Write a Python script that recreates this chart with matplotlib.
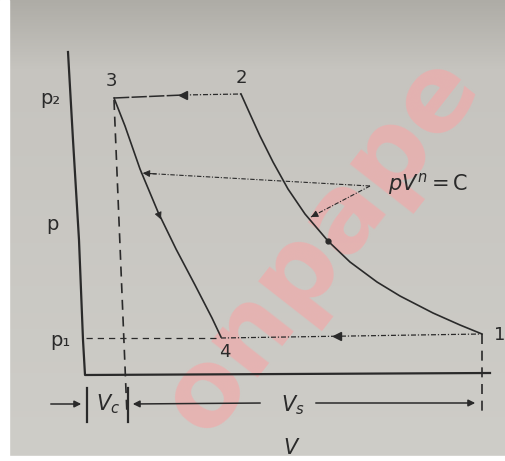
import matplotlib
matplotlib.use("Agg")
import matplotlib.pyplot as plt
import numpy as np

plt.rcParams['mathtext.fontset'] = 'dejavusans'

INK = '#2a2a2a'

# state points 1, 2, 3, 4 (V, p in drawing units)
V_state = [397, 156, 29, 136]
p_state = [41, 281, 277, 37]
state_labels = ['1', '2', '3', '4']
label_V = [415, 156, 26, 140]
label_p = [40, 297, 294, 23]

# compression 1 -> 2, pV^n = C
V_12 = [397, 375, 348, 315, 292, 265, 243, 220, 203, 188, 175, 165, 156]
p_12 = [41, 50, 62, 79, 93, 113, 134, 161, 186, 213, 239, 261, 281]

# re-expansion 3 -> 4
V_34 = [29, 40, 55, 73, 91, 110, 127, 136]
p_34 = [277, 249, 206, 163, 126, 90, 57, 38]

# p axis (the printed axis leans a little)
axis_V = [-17, -12, -6, -2, 0, 405]
axis_p = [323, 235, 135, 35, 0, 2]

# clearance / swept volume markers
Vc_edge = [29, 42]
Vc_p = [275, -40]
dim_p = -29
tick_V = [2, 43]

# leader for the pV^n = C note
lead_tail = (285, 189)
lead_tips = [(55, 202), (226, 158)]

fig = plt.figure(figsize=(5.05, 4.61), dpi=100)
ax = fig.add_axes([0, 0, 1, 1])
ax.set_xlim(-85, 420)
ax.set_ylim(-86, 375)
ax.axis('off')

# paper background, darker near the top edge
rows = np.linspace(0, 1, 200)
top = np.array([174, 172, 166]) / 255
mid = np.array([198, 196, 191]) / 255
low = np.array([206, 205, 200]) / 255
grad = np.where(rows[:, None] < 0.15,
                top + (mid - top) * (rows[:, None] / 0.15),
                mid + (low - mid) * ((rows[:, None] - 0.15) / 0.85))
ax.imshow(grad[:, None, :], extent=[-85, 420, -86, 375], aspect='auto', zorder=0)
ax.axvspan(-85, -76, color='white', zorder=1)
ax.axhspan(-86, -81, color='white', zorder=1)

ax.text(236, 131, 'onpape', fontsize=77, fontweight='bold', color='#f0aaaa',
        alpha=0.7, rotation=52, ha='center', va='center',
        rotation_mode='anchor', zorder=2)

# axes
ax.plot(axis_V, axis_p, color=INK, lw=1.6, zorder=5)

# process curves
ax.plot(V_12, p_12, color=INK, lw=1.2, zorder=5)
ax.plot(V_34, p_34, color=INK, lw=1.2, zorder=5)

# delivery line 2 -> 3 and suction line 4 -> 1
ax.plot([V_state[2], 98], [p_state[2], 280], color=INK, lw=1.1,
        dashes=(10, 1.5), zorder=5)
ax.plot([98, V_state[1]], [280, p_state[1]], color=INK, lw=0.9,
        dashes=(4, 1.5, 1, 1.5), zorder=5)
ax.plot([1, V_state[3]], [p_state[3], p_state[3]], color=INK, lw=0.9,
        dashes=(5, 4), zorder=5)
ax.plot([V_state[3], V_state[0]], [p_state[3], p_state[0]], color=INK, lw=0.9,
        dashes=(4, 1.5, 1, 1.5), zorder=5)

# flow direction arrowheads
ax.plot([98, 252], [280, 39], marker='<', ms=6, color=INK, ls='none', zorder=6)
ax.annotate('', xy=(77, 153), xytext=(72, 165),
            arrowprops=dict(arrowstyle='-|>', color=INK, lw=0.6, mutation_scale=11),
            zorder=6)
ax.plot([243], [134], marker='o', ms=3.5, color=INK, zorder=6)

# vertical dashed lines at V3 and V1
ax.plot(Vc_edge, Vc_p, color=INK, lw=1.2, dashes=(6, 4), zorder=5)
ax.plot([V_state[0], V_state[0]], [p_state[0], -38], color=INK, lw=1.2,
        dashes=(6, 4), zorder=5)

# leaders to both polytropic curves
for tip in lead_tips:
    ax.plot([lead_tail[0], tip[0]], [lead_tail[1], tip[1]], color=INK, lw=0.8,
            dashes=(4, 1.5, 1, 1.5), zorder=5)
    ax.annotate('', xy=tip, xytext=(tip[0] + (lead_tail[0] - tip[0]) * 0.08,
                                    tip[1] + (lead_tail[1] - tip[1]) * 0.08),
                arrowprops=dict(arrowstyle='-|>', color=INK, lw=0.8,
                                mutation_scale=10), zorder=6)

# dimension row
for v in tick_V:
    ax.plot([v, v], [-13, -47], color=INK, lw=1.6, zorder=5)
arrow = dict(arrowstyle='-|>', color=INK, lw=1.1, mutation_scale=10)
ax.annotate('', xy=(-1, dim_p), xytext=(-37, dim_p), arrowprops=arrow, zorder=6)
ax.annotate('', xy=(45, dim_p), xytext=(178, dim_p + 1), arrowprops=arrow, zorder=6)
ax.annotate('', xy=(393, dim_p + 1), xytext=(228, dim_p + 1), arrowprops=arrow, zorder=6)

# labels
for s, v, p in zip(state_labels, label_V, label_p):
    ax.text(v, p, s, fontsize=13, color=INK, ha='center', va='center', zorder=7)
ax.text(-35, 277, 'p₂', fontsize=14, color=INK, ha='center', va='center', zorder=7)
ax.text(-33, 150, 'p', fontsize=14, color=INK, ha='center', va='center', zorder=7)
ax.text(-25, 35, 'p₁', fontsize=14, color=INK, ha='center', va='center', zorder=7)
ax.text(23, dim_p, '$V_c$', fontsize=15, color=INK, ha='center', va='center', zorder=7)
ax.text(208, dim_p - 1, '$V_s$', fontsize=15, color=INK, ha='center', va='center', zorder=7)
ax.text(207, -73, '$V$', fontsize=15, color=INK, ha='center', va='center', zorder=7)
ax.text(343, 191, '$pV^n = $C', fontsize=15, color=INK, ha='center', va='center', zorder=7)

fig.savefig('out.png', dpi=100)
